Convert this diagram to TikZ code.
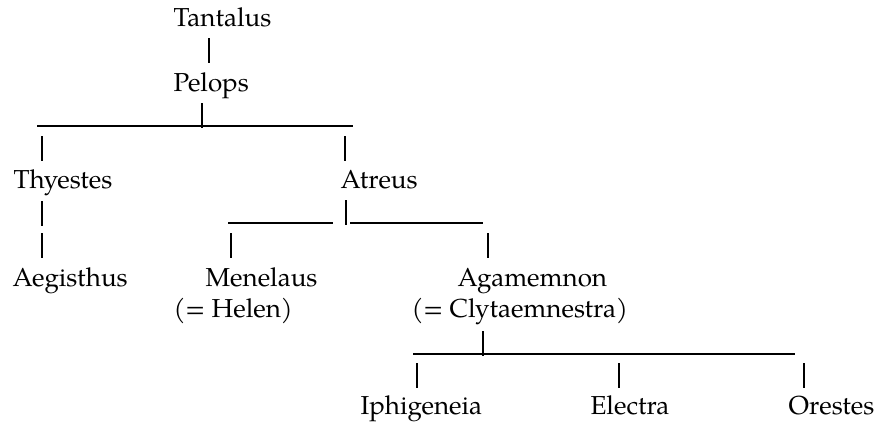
\documentclass[tikz,border=0pt]{standalone}
\usepackage{fontspec}
\setmainfont{TeX Gyre Pagella}

\begin{document}
\begin{tikzpicture}[x=0.5pt,y=-0.5pt,line width=0.6pt,
  person/.style={anchor=base west,inner sep=0pt,font=\fontsize{13}{15}\selectfont}]
  \useasboundingbox (0,0) rectangle (877,423);

  \node[person] (tantalus)      at (173,26)  {Tantalus};
  \node[person] (pelops)        at (173,91)  {Pelops};
  \node[person] (thyestes)      at (13,188)  {Thyestes};
  \node[person] (atreus)        at (340,188) {Atreus};
  \node[person] (aegisthus)     at (12,286)  {Aegisthus};
  \node[person] (menelaus)      at (205,286) {Menelaus};
  \node[person] (helen)         at (173,317) {(= Helen)};
  \node[person] (agamemnon)     at (457,286) {Agamemnon};
  \node[person] (clytaemnestra) at (411,317) {(= Clytaemnestra)};
  \node[person] (iphigeneia)    at (360,414) {Iphigeneia};
  \node[person] (electra)       at (590,414) {Electra};
  \node[person] (orestes)       at (788,414) {Orestes};
%
  \coordinate (pelopsL) at (37,126);
  \coordinate (pelopsR) at (353,126);
  \coordinate (atreusL) at (228,223);
  \coordinate (atreusM) at (333,223);
  \coordinate (atreusN) at (350,223);
  \coordinate (atreusR) at (483,223);
  \coordinate (agamL)   at (413,354);
  \coordinate (agamR)   at (795,354);

  \draw (pelopsL) -- (pelopsR);
  \draw (atreusL) -- (atreusM);
  \draw (atreusN) -- (atreusR);
  \draw (agamL) -- (agamR);

  \foreach \x/\y in {209/38, 202/103, 42/136, 345/136, 42/201, 42/233,
                     346/200, 231/233, 488/233, 483/331, 417/363, 619/363, 804/363}
    \draw (\x,\y) -- ++(0,25);
\end{tikzpicture}
\end{document}
